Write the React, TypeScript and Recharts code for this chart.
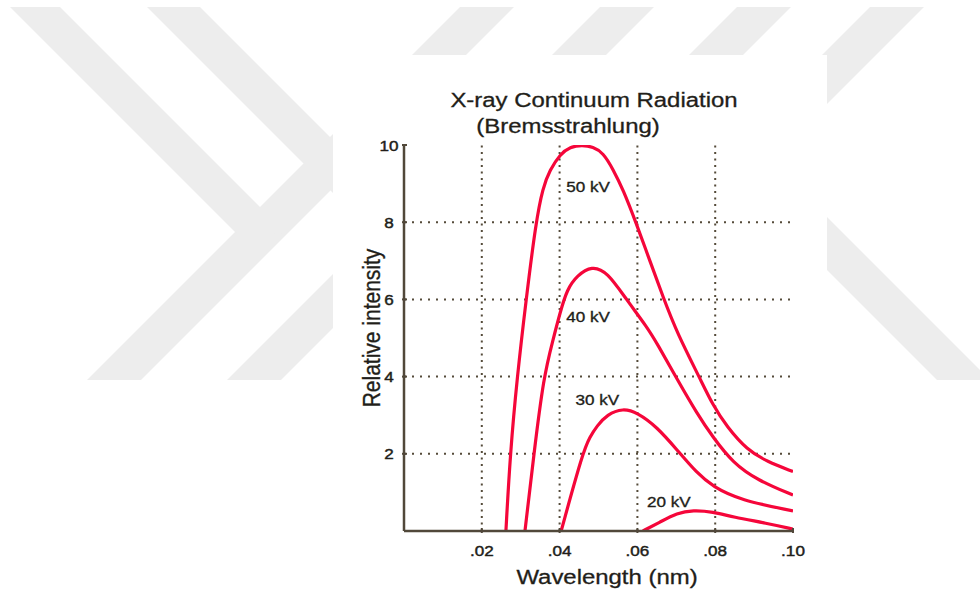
import React from "react";
import { LineChart, Line, XAxis, YAxis, ReferenceLine, ReferenceDot, Label } from "recharts";

// wavelength (nm) / relative intensity readings for each tube voltage
const wavelength50 = [0.0262, 0.0273, 0.0291, 0.0314, 0.0339, 0.0357, 0.0375, 0.0401, 0.0427, 0.0458, 0.0486, 0.0512, 0.0537, 0.0563, 0.0596, 0.0632, 0.0666, 0.0702, 0.0761, 0.0794, 0.083, 0.0882, 0.0933, 0.1];
const intensity50 = [0, 2, 4, 6, 8, 8.9, 9.35, 9.76, 9.95, 10.0, 9.95, 9.8, 9.38, 8.85, 8.0, 7.0, 6.06, 5.13, 3.95, 3.26, 2.7, 2.1, 1.8, 1.54];

const wavelength40 = [0.0311, 0.0334, 0.0359, 0.0383, 0.0401, 0.0419, 0.0445, 0.0483, 0.0522, 0.0573, 0.0625, 0.065, 0.0704, 0.0753, 0.0794, 0.0846, 0.0908, 0.1];
const intensity40 = [0, 2, 4, 4.95, 5.65, 6.26, 6.62, 6.87, 6.72, 5.98, 5.28, 4.87, 3.9, 3.05, 2.43, 1.76, 1.32, 0.93];

const wavelength30 = [0.0404, 0.046, 0.0478, 0.0496, 0.0522, 0.0563, 0.0599, 0.065, 0.0702, 0.0753, 0.0794, 0.0864, 0.1];
const intensity30 = [0, 2.05, 2.44, 2.72, 3.02, 3.18, 3.07, 2.7, 2.1, 1.5, 1.15, 0.8, 0.52];

const wavelength20 = [0.0614, 0.0658, 0.0702, 0.0743, 0.0794, 0.0846, 0.0933, 0.1];
const intensity20 = [0, 0.23, 0.47, 0.54, 0.5, 0.36, 0.2, 0.05];

const curveNames = ["50 kV", "40 kV", "30 kV", "20 kV"];
const curveLabelWl = [0.0473, 0.0473, 0.0497, 0.0681];
const curveLabelInt = [8.92, 5.56, 3.41, 0.77];

const xTicks = [0.02, 0.04, 0.06, 0.08, 0.1];
const xTickLabels = [".02", ".04", ".06", ".08", ".10"];
const yTicks = [2, 4, 6, 8, 10];
const xGrid = [0.02, 0.04, 0.06, 0.08];
const yGrid = [2, 4, 6, 8];

const toPoints = (wl: number[], val: number[]) => wl.map((w, k) => ({ wl: w, i: val[k] }));
const series = [
  toPoints(wavelength50, intensity50),
  toPoints(wavelength40, intensity40),
  toPoints(wavelength30, intensity30),
  toPoints(wavelength20, intensity20),
];

const FONT = "'Liberation Sans', Arial, Helvetica, sans-serif";
const INK = "#221e19";
const AXIS = "#51483a";
const GRID = "#554b3a";
const RED = "#f5063a";
const WIDEN = 1.14;
const SHADE = "#ededed";

function WideText({ x, y, size, rotate, weight = 0.3, children }: any) {
  const tf = `translate(${x},${y}) scale(${WIDEN},1)` + (rotate ? ` rotate(${rotate})` : "");
  return (
    <text
      transform={tf}
      textAnchor="middle"
      fontSize={size}
      fontFamily={FONT}
      fill={INK}
      stroke={INK}
      strokeWidth={weight}
    >
      {children}
    </text>
  );
}

function XTick(props: any) {
  const { x, y, index } = props;
  return (
    <g>
      <line x1={x} y1={y} x2={x} y2={y - 5} stroke={AXIS} strokeWidth={2} />
      <WideText x={x} y={y + 23} size={15} weight={0.45}>{xTickLabels[index]}</WideText>
    </g>
  );
}

function YTick(props: any) {
  const { x, y, payload } = props;
  return (
    <g>
      <line x1={x} y1={y} x2={x + 5} y2={y} stroke={AXIS} strokeWidth={2} />
      <WideText x={x - 13} y={y + 5.5} size={15} weight={0.45}>{payload.value}</WideText>
    </g>
  );
}

function XTitle(props: any) {
  const vb = props.viewBox;
  return <WideText x={vb.x + 203} y={vb.y + 53} size={21}>Wavelength (nm)</WideText>;
}

function YTitle(props: any) {
  const vb = props.viewBox;
  return <WideText x={vb.x + 36} y={vb.y + 183} size={21} rotate={-90}>Relative intensity</WideText>;
}

const curveLabel = (text: string) => (props: any) => {
  const vb = props.viewBox;
  const cx = vb.x + vb.width / 2;
  const cy = vb.y + vb.height / 2;
  return <WideText x={cx} y={cy + 5.5} size={15} weight={0.35}>{text}</WideText>;
};

// light chevron band behind the figure
function Backdrop() {
  const slash = [460, 600, 737, 870];
  return (
    <svg width={980} height={591} style={{ position: "absolute", left: 0, top: 0 }}>
      {slash.map((x0) => (
        <polygon key={x0} points={`${x0},7 ${x0 + 54},7 ${x0 + 54 - 373},380 ${x0 - 373},380`} fill={SHADE} />
      ))}
      <polygon points="10,7 60,7 287,234 235,232" fill={SHADE} />
      <polygon points="147,7 200,7 427,234 373,233" fill={SHADE} />
      <polygon points="757,200 810,200 990,380 937,380" fill={SHADE} />
    </svg>
  );
}

export default function App() {
  return (
    <div style={{ position: "absolute", left: 0, top: 0, width: 980, height: 591, background: "#fff", overflow: "hidden" }}>
      <Backdrop />
      <div style={{ position: "absolute", left: 333, top: 55, width: 494, height: 536, background: "#fff" }} />
      <div style={{ position: "absolute", left: 0, top: 0 }}>
        <LineChart width={980} height={591} margin={{ top: 145, right: 187, bottom: 10, left: 344 }}>
          <XAxis
            dataKey="wl"
            type="number"
            domain={[0, 0.1]}
            ticks={xTicks}
            interval={0}
            allowDataOverflow
            height={50}
            tickSize={0}
            tickLine={false}
            axisLine={{ stroke: AXIS, strokeWidth: 2.5 }}
            tick={<XTick />}
          >
            <Label content={<XTitle />} />
          </XAxis>
          <YAxis
            type="number"
            domain={[0, 10]}
            ticks={yTicks}
            interval={0}
            allowDataOverflow
            width={60}
            tickSize={0}
            tickLine={false}
            axisLine={{ stroke: AXIS, strokeWidth: 2.5 }}
            tick={<YTick />}
          >
            <Label content={<YTitle />} />
          </YAxis>
          {yGrid.map((v) => (
            <ReferenceLine key={`h${v}`} y={v} stroke={GRID} strokeWidth={2} strokeDasharray="2 6" />
          ))}
          {xGrid.map((v) => (
            <ReferenceLine key={`v${v}`} x={v} stroke={GRID} strokeWidth={2} strokeDasharray="2 4.5" />
          ))}
          {series.map((d, k) => (
            <Line
              key={curveNames[k]}
              name={curveNames[k]}
              data={d}
              dataKey="i"
              type="basis"
              stroke={RED}
              strokeWidth={3.2}
              dot={false}
              activeDot={false}
              isAnimationActive={false}
            />
          ))}
          {curveNames.map((t, k) => (
            <ReferenceDot
              key={t}
              x={curveLabelWl[k]}
              y={curveLabelInt[k]}
              r={2}
              fill="none"
              stroke="none"
              label={curveLabel(t)}
            />
          ))}
        </LineChart>
      </div>
      <svg width={980} height={591} style={{ position: "absolute", left: 0, top: 0, pointerEvents: "none" }}>
        <WideText x={594} y={107} size={21}>X-ray Continuum Radiation</WideText>
        <WideText x={568} y={133} size={21}>(Bremsstrahlung)</WideText>
      </svg>
    </div>
  );
}
